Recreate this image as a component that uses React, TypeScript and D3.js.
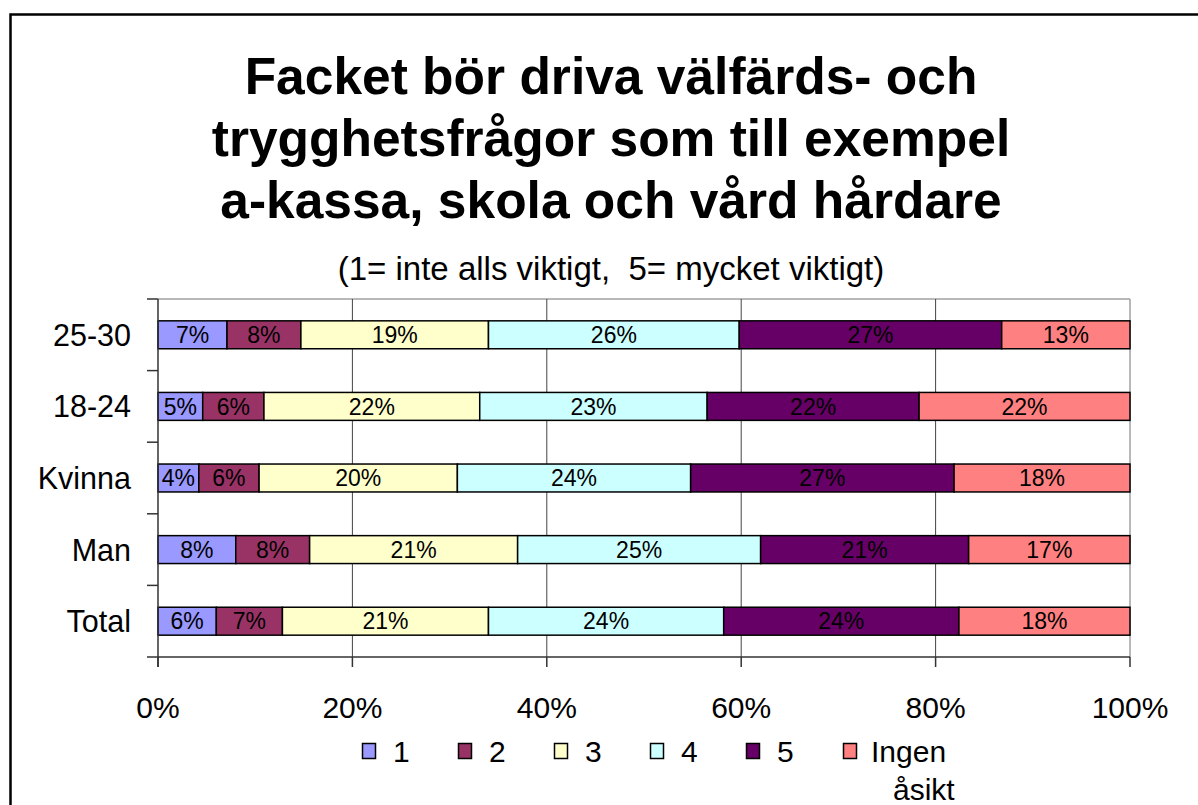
import React from 'react';
import * as d3 from 'd3';

const categories = ['25-30', '18-24', 'Kvinna', 'Man', 'Total'];
const seriesNames = ['1', '2', '3', '4', '5', 'Ingen åsikt'];
const colors = ['#9999FF', '#993366', '#FFFFCC', '#CCFFFF', '#660066', '#FF8080'];

// percent per category, in series order
const v2530 = [7.1, 7.6, 19.3, 25.8, 27.0, 13.2];
const v1824 = [4.6, 6.3, 22.2, 23.4, 21.8, 21.7];
const vKvinna = [4.2, 6.2, 20.4, 24.0, 27.1, 18.1];
const vMan = [8.0, 7.6, 21.4, 25.0, 21.4, 16.6];
const vTotal = [6.0, 6.8, 21.2, 24.2, 24.2, 17.6];

const xTicks = [0, 0.2, 0.4, 0.6, 0.8, 1];

const titleLines = [
  'Facket bör driva välfärds- och',
  'trygghetsfrågor som till exempel',
  'a-kassa, skola och vård hårdare',
];
const subtitle = '(1= inte alls viktigt,  5= mycket viktigt)';

const W = 1198;
const H = 805;
const margin = { top: 299, right: 68, bottom: 148, left: 158 };
const font = 'Arial, "Liberation Sans", sans-serif';

export default function App() {
  const rows = [v2530, v1824, vKvinna, vMan, vTotal];
  const table = categories.map((c, i) => {
    const row: any = { cat: c };
    const sum = d3.sum(rows[i]);
    seriesNames.forEach((s, j) => (row[s] = rows[i][j] / sum));
    return row;
  });
  const stacked = d3.stack().keys(seriesNames)(table);

  const x = d3.scaleLinear().domain([0, 1]).range([margin.left, W - margin.right]);
  const y = d3
    .scaleBand()
    .domain(categories)
    .range([margin.top, H - margin.bottom])
    .paddingInner(0.61)
    .paddingOuter(0.305);
  const band = d3.scaleBand().domain(categories).range([margin.top, H - margin.bottom]);

  const pct = d3.format('.0%');
  const x0 = x(0);
  const x1 = x(1);
  const yTop = margin.top;
  const yBot = H - margin.bottom;
  const cx = 611;

  const legendX = [362, 458, 554, 650, 746, 843];

  return (
    <svg width={W} height={H} style={{ position: 'absolute', left: 0, top: 0, background: '#fff' }}>
      <rect x={10.5} y={14.5} width={1250} height={850} fill="none" stroke="#000" strokeWidth={2.5} />

      {titleLines.map((t, i) => (
        <text key={t} x={cx} y={94 + i * 62} textAnchor="middle" fontFamily={font} fontWeight="bold" fontSize={51.5}>
          {t}
        </text>
      ))}
      <text x={cx} y={280} textAnchor="middle" fontFamily={font} fontSize={33} style={{ whiteSpace: 'pre' }}>
        {subtitle}
      </text>

      {/* plot frame */}
      <line x1={x0} x2={x1} y1={yTop} y2={yTop} stroke="#a0a0a0" strokeWidth={1.5} />
      <line x1={x1} x2={x1} y1={yTop} y2={yBot} stroke="#a0a0a0" strokeWidth={1.5} />
      {xTicks.slice(1, -1).map(t => (
        <line key={t} x1={x(t)} x2={x(t)} y1={yTop} y2={yBot} stroke="#444" strokeWidth={1} />
      ))}

      {stacked.map((s, j) => (
        <g key={s.key}>
          {s.map((d, i) => (
            <rect
              key={i}
              x={x(d[0])}
              y={y(categories[i])}
              width={x(d[1]) - x(d[0])}
              height={y.bandwidth()}
              fill={colors[j]}
              stroke="#000"
              strokeWidth={1.5}
            />
          ))}
        </g>
      ))}
      {stacked.map((s, j) => (
        <g key={'l' + s.key}>
          {s.map((d, i) => (
            <text
              key={i}
              x={(x(d[0]) + x(d[1])) / 2}
              y={(y(categories[i]) as number) + y.bandwidth() / 2}
              dy="0.36em"
              textAnchor="middle"
              fontFamily={font}
              fontSize={23}
            >
              {pct(rows[i][j] / 100)}
            </text>
          ))}
        </g>
      ))}

      {/* y axis */}
      <line x1={x0} x2={x0} y1={yTop} y2={yBot + 10} stroke="#333" strokeWidth={1.5} />
      {categories.map(c => (
        <line key={c} x1={x0 - 11} x2={x0} y1={band(c)} y2={band(c)} stroke="#333" strokeWidth={1.5} />
      ))}
      <line x1={x0 - 11} x2={x0} y1={yBot} y2={yBot} stroke="#333" strokeWidth={1.5} />
      {categories.map(c => (
        <text
          key={c}
          x={131}
          y={(y(c) as number) + y.bandwidth() / 2}
          dy="0.36em"
          textAnchor="end"
          fontFamily={font}
          fontSize={30.5}
        >
          {c}
        </text>
      ))}

      {/* x axis */}
      <line x1={x0} x2={x1} y1={yBot} y2={yBot} stroke="#333" strokeWidth={1.5} />
      {xTicks.map(t => (
        <g key={t}>
          <line x1={x(t)} x2={x(t)} y1={yBot} y2={yBot + 10} stroke="#333" strokeWidth={1.5} />
          <text x={x(t)} y={718} textAnchor="middle" fontFamily={font} fontSize={30}>
            {pct(t)}
          </text>
        </g>
      ))}

      {/* legend */}
      {seriesNames.map((s, j) => (
        <g key={s} transform={`translate(${legendX[j]},0)`}>
          <rect x={0.5} y={743.5} width={13} height={15} fill={colors[j]} stroke="#000" strokeWidth={1.5} />
          {s === 'Ingen åsikt' ? (
            <text x={28} y={762} fontFamily={font} fontSize={30}>
              <tspan x={28}>Ingen</tspan>
              <tspan x={50} y={800}>åsikt</tspan>
            </text>
          ) : (
            <text x={31} y={762} fontFamily={font} fontSize={30}>
              {s}
            </text>
          )}
        </g>
      ))}
    </svg>
  );
}
